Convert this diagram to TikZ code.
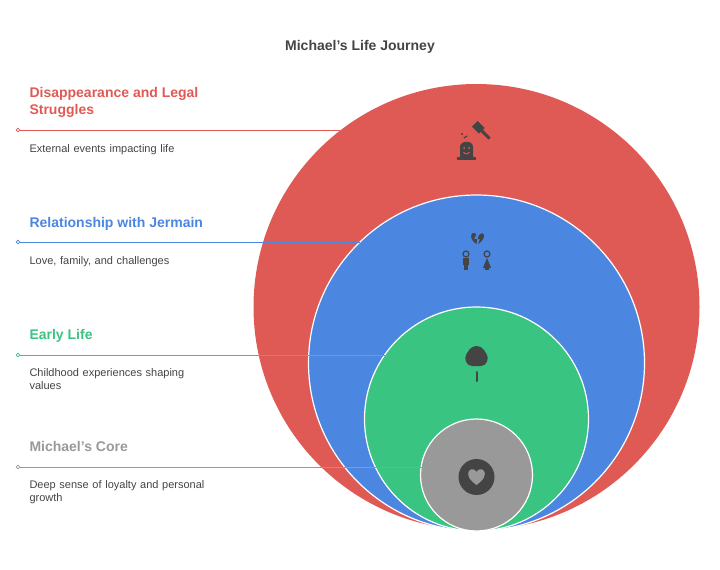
\documentclass[tikz,border=0pt]{standalone}
\usepackage{fontspec}
\setmainfont{Liberation Sans}
\definecolor{cred}{HTML}{E05A55}
\definecolor{cblue}{HTML}{4B86E0}
\definecolor{cgreen}{HTML}{3AC482}
\definecolor{cgrey}{HTML}{999999}
\definecolor{ink}{HTML}{444444}
\begin{document}
\begin{tikzpicture}[x=1pt,y=-1pt,
  ring/.style={draw=white,line width=1.2pt},
  head/.style={anchor=north west,font=\bfseries\fontsize{14}{17}\selectfont,align=left},
  desc/.style={anchor=north west,font=\fontsize{11}{12.5}\selectfont,text=ink,align=left,text width=175pt},
  lead/.style={line width=0.8pt},
  dotm/.style={circle,draw,fill=white,inner sep=1.3pt,line width=0.7pt}]
\useasboundingbox (0,0) rectangle (720,570);
\node[font=\bfseries\fontsize{14}{16}\selectfont,text=ink] (title) at (360,47) {Michael's Life Journey};
\fill[cred] (476.5,307) circle (223);
\filldraw[fill=cblue,ring] (476.5,363) circle (168);
\filldraw[fill=cgreen,ring] (476.5,419) circle (112);
\filldraw[fill=cgrey,ring] (476.5,475) circle (56);
% leaders
\node[dotm,draw=cred] (d1) at (18,130) {}; \coordinate (e1) at (340,130);
\draw[lead,draw=cred] (d1) -- (e1);
\node[dotm,draw=cblue] (d2) at (18,242) {}; \coordinate (e2) at (360,242);
\draw[lead,draw=cblue] (d2) -- (e2);
\node[dotm,draw=cgreen] (d3) at (18,355) {}; \coordinate (e3) at (385,355);
\draw[lead,draw=cgreen] (d3) -- (e3);
\node[dotm,draw=cgrey] (d4) at (18,467) {}; \coordinate (e4) at (423,467);
\draw[lead,draw=cgrey] (d4) -- (e4);
% texts
\node[head,text=cred] (h1) at (26,84) {Disappearance and Legal\\Struggles};
\node[desc] (t1) at (26,141) {External events impacting life};
\node[head,text=cblue] (h2) at (26,214) {Relationship with Jermain};
\node[desc] (t2) at (26,253) {Love, family, and challenges};
\node[head,text=cgreen] (h3) at (26,326) {Early Life};
\node[desc] (t3) at (26,365) {Childhood experiences shaping values};
\node[head,text=cgrey] (h4) at (26,438) {Michael's Core};
\node[desc] (t4) at (26,477) {Deep sense of loyalty and personal growth};
% icon: heart
\fill[ink] (476.5,477) circle (18);
\fill[cgrey] (476.5,485) .. controls (468,479) and (467,474) .. (469,471) .. controls (471,468) and (475,469) .. (476.5,472) .. controls (478,469) and (482,468) .. (484,471) .. controls (486,474) and (485,479) .. (476.5,485) -- cycle;
% icon: tree
\fill[ink] (476.5,346) .. controls (470,346) and (468,352) .. (466,355) .. controls (464,358) and (466,366) .. (472,366) -- (481,366) .. controls (487,366) and (489,358) .. (487,355) .. controls (485,352) and (483,346) .. (476.5,346) -- cycle;
\draw[ink,line width=2pt,line cap=round] (476.5,372) -- (476.5,381);
% icon: people + broken heart
\foreach \px in {466,487}{
  \draw[ink,line width=1.2pt] (\px,254) circle (3);
}
\fill[ink] (463,258) rectangle (469,265); \fill[ink] (464,265) rectangle (468,270);
\fill[ink] (487,258) -- (491,268) -- (483,268) -- cycle; \fill[ink] (485,268) rectangle (489,270);
\fill[ink] (476.5,244) .. controls (470,240) and (470,234) .. (473,233) .. controls (475,232) and (476,234) .. (476,235) -- (474,239) -- (477,239) -- cycle;
\fill[ink] (478,244) -- (480,239) -- (477.5,239) -- (479,235) .. controls (480,233) and (484,232) .. (484,236) .. controls (484,239) and (481,242) .. (478,244) -- cycle;
% icon: gavel + ghost
\fill[ink] (460,158) -- (460,147) .. controls (460,140) and (473,140) .. (473,147) -- (473,158) -- cycle;
\fill[ink] (457,157) rectangle (476,160);
\fill[cred] (464,148) circle (1); \fill[cred] (469,148) circle (1);
\draw[cred,line width=0.8pt] (463.5,152) .. controls (465,154.5) and (468,154.5) .. (469.5,152);
\begin{scope}[shift={(479,128)},rotate=-45]
\fill[ink] (-6,-4) rectangle (4,4);
\fill[ink] (4,-1.5) rectangle (15,1.5);
\end{scope}
\fill[ink] (462,134) circle (1.2);
\draw[ink,line width=1.2pt,line cap=round] (464,138) -- (467,136);
\end{tikzpicture}
\end{document}
